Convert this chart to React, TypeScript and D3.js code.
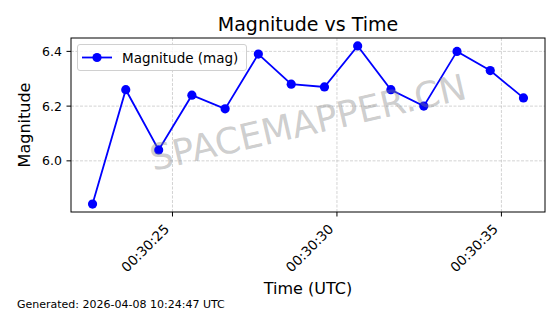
import React from "react";
import * as d3 from "d3";

const times = [
  "2026-04-08T00:30:22.570Z",
  "2026-04-08T00:30:23.580Z",
  "2026-04-08T00:30:24.580Z",
  "2026-04-08T00:30:25.590Z",
  "2026-04-08T00:30:26.600Z",
  "2026-04-08T00:30:27.610Z",
  "2026-04-08T00:30:28.610Z",
  "2026-04-08T00:30:29.620Z",
  "2026-04-08T00:30:30.630Z",
  "2026-04-08T00:30:31.640Z",
  "2026-04-08T00:30:32.640Z",
  "2026-04-08T00:30:33.650Z",
  "2026-04-08T00:30:34.660Z",
  "2026-04-08T00:30:35.670Z",
];
const magnitudes = [5.842, 6.26, 6.04, 6.24, 6.19, 6.39, 6.28, 6.27, 6.42, 6.26, 6.2, 6.4, 6.33, 6.23];
const yTicks = [6.0, 6.2, 6.4];
const titleText = "Magnitude vs Time";
const xLabel = "Time (UTC)";
const yLabel = "Magnitude";
const legendLabel = "Magnitude (mag)";
const footerText = "Generated: 2026-04-08 10:24:47 UTC";
const watermark = "SPACEMAPPER.CN";

const W = 560;
const H = 314;
const M = { left: 71, right: 545, top: 38, bottom: 212 };
const FONT = "'DejaVu Sans', sans-serif";
const BLUE = "#0000ff";

export default function App() {
  const dates = times.map((t) => new Date(t));
  const [t0, t1] = d3.extent(dates) as [Date, Date];
  const span = +t1 - +t0;
  const x = d3
    .scaleUtc()
    .domain([new Date(+t0 - span * 0.05), new Date(+t1 + span * 0.05)])
    .range([M.left, M.right]);
  const [v0, v1] = d3.extent(magnitudes) as [number, number];
  const vs = v1 - v0;
  const y = d3
    .scaleLinear()
    .domain([v0 - vs * 0.05, v1 + vs * 0.05])
    .range([M.bottom, M.top]);

  const xTicks = x.ticks(d3.utcSecond.every(5) as any);
  const fmt = d3.utcFormat("%H:%M:%S");
  const line = d3
    .line<number>()
    .x((_, i) => x(dates[i]))
    .y((d) => y(d));

  const cx = (M.left + M.right) / 2;
  const cy = (M.top + M.bottom) / 2;
  const wy = cy - 2.5;

  return (
    <svg
      width={W}
      height={H}
      style={{ position: "absolute", left: 0, top: 0, background: "#fff" }}
      fontFamily={FONT}
    >
      <rect x={0} y={0} width={W} height={H} fill="#fff" />
      {/* grid */}
      {xTicks.map((t, i) => (
        <line
          key={"gx" + i}
          x1={x(t)}
          x2={x(t)}
          y1={M.top}
          y2={M.bottom}
          stroke="#b0b0b0"
          strokeOpacity={0.7}
          strokeWidth={0.8}
          strokeDasharray="3,1.5"
        />
      ))}
      {yTicks.map((t, i) => (
        <line
          key={"gy" + i}
          x1={M.left}
          x2={M.right}
          y1={y(t)}
          y2={y(t)}
          stroke="#b0b0b0"
          strokeOpacity={0.7}
          strokeWidth={0.8}
          strokeDasharray="3,1.5"
        />
      ))}
      {/* data */}
      <path d={line(magnitudes) || ""} fill="none" stroke={BLUE} strokeWidth={1.8} />
      {magnitudes.map((m, i) => (
        <circle key={"p" + i} cx={x(dates[i])} cy={y(m)} r={4.6} fill={BLUE} />
      ))}
      {/* watermark */}
      <text
        x={cx}
        y={wy}
        transform={`rotate(-13 ${cx} ${wy})`}
        textAnchor="middle"
        dominantBaseline="central"
        fontSize={36}
        fill="#808080"
        fillOpacity={0.4}
      >
        {watermark}
      </text>
      {/* frame */}
      <rect
        x={M.left}
        y={M.top}
        width={M.right - M.left}
        height={M.bottom - M.top}
        fill="none"
        stroke="#000"
        strokeWidth={1}
      />
      {/* x ticks */}
      {xTicks.map((t, i) => {
        const px = x(t);
        return (
          <g key={"xt" + i}>
            <line x1={px} x2={px} y1={M.bottom} y2={M.bottom + 4.5} stroke="#000" strokeWidth={1} />
            <text
              transform={`translate(${px - 2.5},${M.bottom + 18}) rotate(-45)`}
              textAnchor="end"
              fontSize={13.5}
              fill="#000"
            >
              {fmt(t)}
            </text>
          </g>
        );
      })}
      {/* y ticks */}
      {yTicks.map((t, i) => {
        const py = y(t);
        return (
          <g key={"yt" + i}>
            <line x1={M.left - 4.5} x2={M.left} y1={py} y2={py} stroke="#000" strokeWidth={1} />
            <text x={M.left - 9} y={py} textAnchor="end" dominantBaseline="central" fontSize={12.5} fill="#000">
              {d3.format(".1f")(t)}
            </text>
          </g>
        );
      })}
      {/* legend */}
      <g>
        <rect x={77.5} y={44.5} width={169} height={26} rx={2.5} fill="#fff" fillOpacity={0.8} stroke="#d0d0d0" strokeWidth={1} />
        <line x1={82} x2={112} y1={57.5} y2={57.5} stroke={BLUE} strokeWidth={1.8} />
        <circle cx={97} cy={57.5} r={4.6} fill={BLUE} />
        <text x={122} y={57.5} dominantBaseline="central" fontSize={13.5} fill="#000">
          {legendLabel}
        </text>
      </g>
      {/* labels */}
      <text x={cx} y={31} textAnchor="middle" fontSize={19} fill="#000">
        {titleText}
      </text>
      <text x={cx} y={294} textAnchor="middle" fontSize={16} fill="#000">
        {xLabel}
      </text>
      <text
        transform={`translate(30,${cy}) rotate(-90)`}
        textAnchor="middle"
        fontSize={16}
        fill="#000"
      >
        {yLabel}
      </text>
      <text x={17} y={308} fontSize={11} fill="#000">
        {footerText}
      </text>
    </svg>
  );
}
